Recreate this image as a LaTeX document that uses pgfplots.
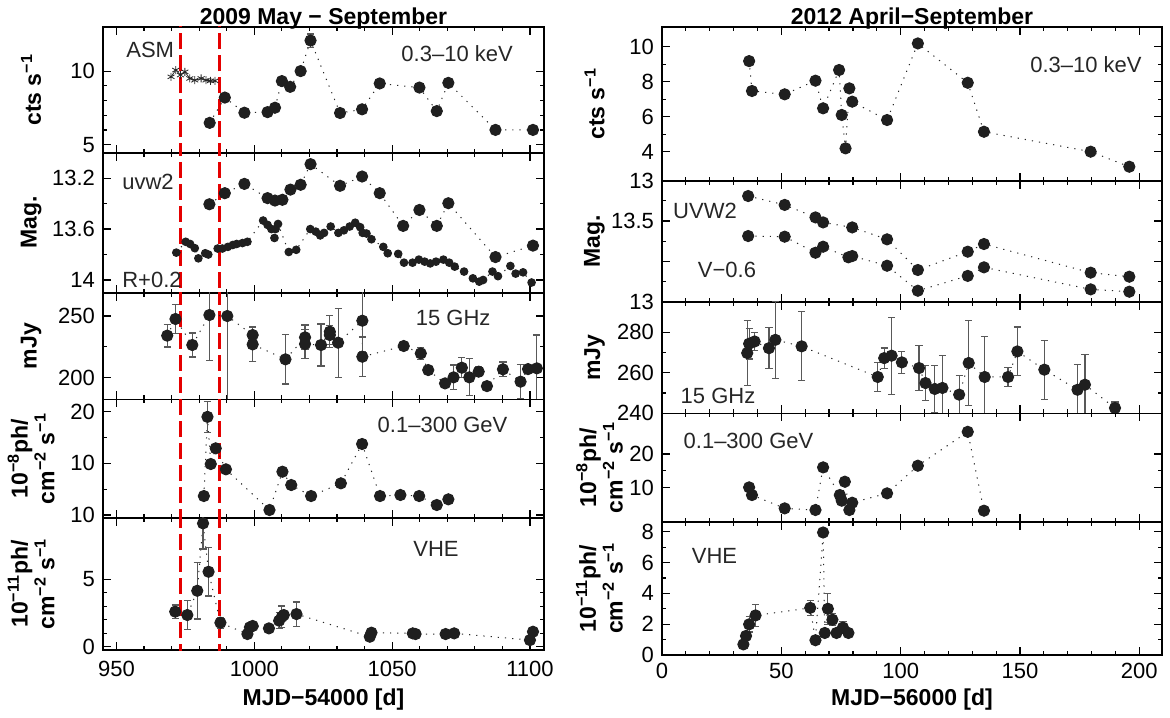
\documentclass[border=0pt]{standalone}
\usepackage{fontspec}
\setmainfont{Liberation Sans}
\usepackage{pgfplots}
\pgfplotsset{compat=1.18}

\pgfplotsset{
  panel/.style={scale only axis, clip=true,
    axis line style={line width=0.8pt},
    tick style={black, line width=0.6pt},
    major tick length=4pt, minor tick length=2pt, tick align=inside,
    tick label style={font=\fontsize{11}{12}\selectfont},
    yticklabel style={xshift=-0.5pt},
    label style={font=\bfseries\fontsize{11.5}{11}\selectfont},
    title style={font=\bfseries\fontsize{11.5}{12}\selectfont, anchor=base, yshift=-5pt},
    /pgf/number format/1000 sep={},
    /pgf/number format/assume math mode=true},
  leftx/.style={xmin=945.1, xmax=1105.1, xtick={950,1000,1050,1100}, minor x tick num=4,
    width=220.5pt, ylabel style={at={(axis description cs:-0.163,0.5)}, anchor=center, align=center}},
  rightx/.style={xmin=0, xmax=209.5, xtick={0,50,100,150,200}, minor x tick num=4,
    width=250pt, ylabel style={at={(axis description cs:-0.135,0.5)}, anchor=center, align=center}},
  pts/.style={black!85, line width=0.5pt, dash pattern=on 0.6pt off 3pt,
    mark=*, mark size=2.8pt, mark options={solid, fill=black!88, draw=black!88}},
  errs/.style={error bars/y dir=both, error bars/y explicit,
    error bars/error bar style={solid, line width=0.6pt, black!65},
    error bars/error mark options={rotate=90, mark size=1.8pt, line width=0.6pt, black!65}},
  flag/.style={red!90!black, line width=1.5pt, dash pattern=on 8pt off 3pt},
}
\tikzset{anno/.style={font=\fontsize{11}{12}\selectfont, text=black!85}}

\begin{document}
\begin{tikzpicture}
\useasboundingbox (0,0) rectangle (585pt,-358.5pt);

% ---------------- left column: 2009 ----------------
\begin{axis}[panel, leftx, at={(51.5pt,-13.5pt)}, anchor=north west, height=62.85pt,
  ymin=4.45, ymax=13, ytick={5,10}, minor y tick num=4, xticklabels={},
  ylabel={cts s\textsuperscript{−1}},
  title={2009 May − September}]
\addplot[flag] coordinates {(973.1,4) (973.1,14)};
\addplot[flag] coordinates {(987.4,4) (987.4,14)};
\addplot[black!85, line width=0.4pt, mark=asterisk, mark size=2pt] coordinates {
(969.8,9.61) (971.5,10.07) (973.2,9.73) (974.8,9.95) (976.6,9.50) (978.4,9.38)
(980.7,9.50) (982.5,9.38) (984.1,9.34) (985.7,9.34)};
\addplot[pts, errs] coordinates {
(983.8,6.48) +- (0,0.15) (989.3,8.2) +- (0,0.15) (996.4,7.17) +- (0,0.15)
(1004.8,7.21) +- (0,0.15) (1007.5,7.51) +- (0,0.15) (1010.0,9.32) +- (0,0.15)
(1013.0,8.93) +- (0,0.2) (1016.8,10.0) +- (0,0.15) (1020.4,12.08) +- (0,0.45)
(1031.1,7.15) +- (0,0.15) (1039.1,7.40) +- (0,0.15) (1045.5,9.16) +- (0,0.15)
(1059.9,8.88) +- (0,0.2) (1066.2,7.28) +- (0,0.15) (1070.4,9.2) +- (0,0.15)
(1087.5,6.0) +- (0,0.15) (1101.1,6.0) +- (0,0.15)};
\node[anno] at (axis description cs:0.107,0.817) {ASM};
\node[anno] at (axis description cs:0.803,0.785) {0.3–10 keV};
\end{axis}

\begin{axis}[panel, leftx, at={(51.5pt,-76.35pt)}, anchor=north west, height=70pt,
  ymin=13.0, ymax=14.1, y dir=reverse, ytick={13.2,13.6,14}, minor y tick num=1, xticklabels={},
  ylabel={Mag.}]
\addplot[flag] coordinates {(973.1,12.9) (973.1,14.2)};
\addplot[flag] coordinates {(987.4,12.9) (987.4,14.2)};
\addplot[pts] coordinates {
(983.7,13.405) (989.3,13.318) (996.4,13.245) (1004.8,13.357) (1007.5,13.376) (1010.2,13.37)
(1013.1,13.29) (1016.8,13.252) (1020.4,13.09) (1031.1,13.26) (1039.1,13.187) (1045.5,13.318)
(1054.0,13.575) (1059.9,13.45) (1066.2,13.575) (1070.4,13.397) (1087.5,13.82) (1101.1,13.73)};
\addplot[pts, mark size=1.9pt] coordinates {
(971.7,13.785) (975.1,13.70) (976.7,13.717) (978.4,13.75) (979.7,13.83) (982.2,13.79)
(983.3,13.80) (986.7,13.753) (988.4,13.753) (990.4,13.74) (992.2,13.725) (993.6,13.717)
(995.7,13.71) (997.5,13.70) (1003.2,13.533) (1004.8,13.567) (1006.2,13.60) (1007.3,13.67)
(1007.7,13.60) (1008.6,13.56) (1012.5,13.78) (1015.2,13.763) (1020.3,13.60) (1022.3,13.62)
(1023.9,13.65) (1025.3,13.63) (1027.7,13.58) (1030.5,13.63) (1032.5,13.61) (1034.6,13.58)
(1036.6,13.55) (1038.4,13.585) (1039.3,13.63) (1040.7,13.635) (1042.5,13.68) (1046.8,13.74)
(1048.4,13.79) (1052.2,13.795) (1054.3,13.864) (1057.4,13.864) (1059.7,13.84) (1061.8,13.856)
(1063.8,13.87) (1065.9,13.856) (1068.6,13.84) (1070.7,13.864) (1072.7,13.895) (1076.1,13.934)
(1079.3,13.987) (1081.6,14.013) (1083.0,14.0) (1086.4,13.934) (1088.4,13.97) (1092.9,13.89)
(1094.8,13.95) (1097.5,13.94) (1100.6,14.02)};
\node[anno] at (axis description cs:0.102,0.79) {uvw2};
\node[anno] at (axis description cs:0.111,0.09) {R+0.2};
\end{axis}

\begin{axis}[panel, leftx, at={(51.5pt,-146.35pt)}, anchor=north west, height=53.3pt,
  ymin=182.5, ymax=268.9, ytick={200,250}, minor y tick num=1, xticklabels={},
  ylabel={mJy}]
\addplot[flag] coordinates {(973.1,170) (973.1,280)};
\addplot[flag] coordinates {(987.4,170) (987.4,280)};
\addplot[pts, errs] coordinates {
(968.4,234.1) +- (0,9.2) (971.4,247.6) +- (0,12) (977.5,226.5) +- (0,9.7)
(983.7,250.8) +- (0,37) (990.2,250) +- (0,80) (999.4,234.6) +- (0,7)
(999.4,227.0) +- (0,14) (1011.3,214.9) +- (0,20) (1018.4,232.7) +- (0,10)
(1018.4,227.3) +- (0,12) (1024.2,226.5) +- (0,17) (1027.4,237.3) +- (0,13)
(1027.4,234.6) +- (0,8) (1030.4,228.4) +- (0,28) (1039.2,246.2) +- (0,25)
(1039.2,217.0) +- (0,16) (1054.2,225.7) +- (0,3.5) (1060.4,219.7) +- (0,5)
(1063.1,206.2) +- (0,2) (1069.2,195.4) +- (0,2) (1072.3,200.3) +- (0,10)
(1075.3,208.1) +- (0,8) (1078.0,200.3) +- (0,15) (1081.4,204.9) +- (0,4)
(1084.4,193.2) +- (0,2) (1090.2,206.8) +- (0,6) (1096.6,196.8) +- (0,14)
(1099.3,207.0) +- (0,2) (1102.5,207.6) +- (0,27)};
\node[anno] at (axis description cs:0.794,0.763) {15 GHz};
\end{axis}

\begin{axis}[panel, leftx, at={(51.5pt,-199.65pt)}, anchor=north west, height=59.2pt,
  ymin=-0.54, ymax=22.4, ytick={0,10,20}, yticklabels={10,10,20}, minor y tick num=1, xticklabels={},
  ylabel={10\textsuperscript{−8}ph/\\cm\textsuperscript{−2} s\textsuperscript{−1}}]
\addplot[flag] coordinates {(973.1,-2) (973.1,25)};
\addplot[flag] coordinates {(987.4,-2) (987.4,25)};
\addplot[pts, errs] coordinates {
(981.7,3.66) +- (0,0.3) (983.0,19.0) +- (0,3) (984.2,9.86) +- (0,0.5) (986.0,12.9) +- (0,0.5)
(989.7,8.83) +- (0,0.5) (1005.5,0.95) +- (0,0.3) (1010.2,8.37) +- (0,0.4) (1013.4,5.79) +- (0,0.4)
(1020.6,3.66) +- (0,0.3) (1031.4,6.12) +- (0,0.4) (1039.1,13.74) +- (0,0.9) (1045.6,3.66) +- (0,0.3)
(1053.0,3.86) +- (0,0.3) (1059.8,3.66) +- (0,0.3) (1066.2,1.92) +- (0,0.3) (1070.4,3.02) +- (0,0.3)};
\node[anno] at (axis description cs:0.77,0.783) {0.1–300 GeV};
\end{axis}

\begin{axis}[panel, leftx, at={(51.5pt,-258.85pt)}, anchor=north west, height=66.15pt,
  ymin=-0.245, ymax=9.57, ytick={0,5}, minor y tick num=4,
  xticklabel style={yshift=-2pt},
  ylabel={10\textsuperscript{−11}ph/\\cm\textsuperscript{−2} s\textsuperscript{−1}},
  xlabel={MJD−54000 [d]},
  xlabel style={at={(axis description cs:0.5,0)}, anchor=base, yshift=-27.5pt}]
\addplot[flag] coordinates {(973.1,-1) (973.1,11)};
\addplot[flag] coordinates {(987.4,-1) (987.4,11)};
\addplot[pts, errs] coordinates {
(971.3,2.6) +- (0,0.5) (975.7,2.35) +- (0,1.1) (979.3,4.15) +- (0,2.1) (981.4,9.15) +- (0,1.9)
(983.4,5.56) +- (0,1.8) (987.7,1.78) +- (0,0.4) (997.5,0.94) +- (0,0.2) (998.4,1.44) +- (0,0.2)
(999.4,1.54) +- (0,0.2) (1005.3,1.36) +- (0,0.2) (1009.0,1.93) +- (0,0.6) (1010.0,2.22) +- (0,0.8)
(1010.7,2.35) +- (0,0.3) (1015.3,2.42) +- (0,0.9) (1041.9,0.74) +- (0,0.15) (1042.5,1.04) +- (0,0.15)
(1057.5,0.99) +- (0,0.1) (1058.5,0.94) +- (0,0.1) (1069.4,0.94) +- (0,0.1) (1072.5,0.99) +- (0,0.1)
(1100.0,0.49) +- (0,0.2) (1101.1,1.11) +- (0,0.2)};
\node[anno] at (axis description cs:0.755,0.763) {VHE};
\end{axis}

% ---------------- right column: 2012 ----------------
\begin{axis}[panel, rightx, at={(331pt,-13.5pt)}, anchor=north west, height=76.85pt,
  ymin=2.34, ymax=11.13, ytick={4,6,8,10}, minor y tick num=1, xticklabels={},
  ylabel={cts s\textsuperscript{−1}},
  title={2012 April−September}]
\addplot[pts] coordinates {
(36.5,9.18) (37.7,7.47) (51.4,7.28) (64.3,8.06) (67.5,6.48) (74.2,8.67) (75.3,6.10) (76.9,4.19)
(78.5,7.62) (79.7,6.86) (94.3,5.81) (107.2,10.19) (128.1,7.94) (134.9,5.14) (179.6,4.0) (195.8,3.14)};
\node[anno] at (axis description cs:0.848,0.753) {0.3–10 keV};
\end{axis}

\begin{axis}[panel, rightx, at={(331pt,-90.35pt)}, anchor=north west, height=60.5pt,
  ymin=13, ymax=14.5, y dir=reverse, ytick={13,13.5,14,14.5}, yticklabels={13,13.5,,13},
  minor y tick num=1, xticklabels={},
  ylabel={Mag.}]
\addplot[pts] coordinates {
(36.1,13.19) (51.4,13.30) (64.3,13.455) (67.5,13.517) (79.7,13.579) (94.3,13.727)
(107.2,14.107) (128.1,13.88) (134.9,13.785) (179.6,14.14) (195.8,14.19)};
\addplot[pts] coordinates {
(36.1,13.686) (51.4,13.694) (64.3,13.893) (67.5,13.818) (78.1,13.95) (79.7,13.934)
(94.3,14.054) (107.2,14.364) (128.1,14.18) (134.9,14.074) (179.6,14.347) (195.8,14.376)};
\node[anno] at (axis description cs:0.086,0.75) {UVW2};
\node[anno] at (axis description cs:0.13,0.266) {V−0.6};
\end{axis}

\begin{axis}[panel, rightx, at={(331pt,-150.85pt)}, anchor=north west, height=55.8pt,
  ymin=240, ymax=295, ytick={240,260,280}, minor y tick num=1, xticklabels={},
  ylabel={mJy}]
\addplot[pts, errs] coordinates {
(35.7,269.7) +- (0,16) (36.5,274.3) +- (0,7.5) (38.8,275.4) +- (0,4.5) (44.8,272.1) +- (0,10)
(47.5,276.2) +- (0,19) (58.5,273.0) +- (0,17) (90.4,257.9) +- (0,7) (93.1,267.2) +- (0,5)
(96.2,268.4) +- (0,19) (100.5,265.1) +- (0,5.5) (107.7,262.3) +- (0,11) (110.4,254.9) +- (0,8.5)
(114.3,252.0) +- (0,11.5) (117.5,252.5) +- (0,16) (124.5,249.2) +- (0,9.5) (128.5,264.8) +- (0,21)
(135.2,257.9) +- (0,20) (145.0,257.9) +- (0,4.5) (148.9,270.5) +- (0,12) (160.2,261.5) +- (0,14.5)
(174.1,251.6) +- (0,12.5) (177.2,254.1) +- (0,15) (189.8,242.6) +- (0,3)};
\node[anno] at (axis description cs:0.112,0.16) {15 GHz};
\end{axis}

\begin{axis}[panel, rightx, at={(331pt,-206.65pt)}, anchor=north west, height=54.2pt,
  ymin=-0.1, ymax=32.1, ytick={10,20}, minor y tick num=1, xticklabels={},
  ylabel={10\textsuperscript{−8}ph/\\cm\textsuperscript{−2} s\textsuperscript{−1}},
  ylabel style={at={(axis description cs:-0.125,0.5)}}]
\addplot[pts] coordinates {
(36.5,10.1) (37.7,7.82) (51.4,3.86) (64.3,3.37) (67.5,16.04) (74.5,7.82) (75.3,6.14)
(76.6,11.78) (78.5,3.37) (79.7,5.54) (94.3,8.32) (107.2,16.53) (128.1,26.6) (134.9,3.17)};
\node[anno] at (axis description cs:0.173,0.747) {0.1–300 GeV};
\end{axis}

\begin{axis}[panel, rightx, at={(331pt,-260.85pt)}, anchor=north west, height=66.65pt,
  ymin=0, ymax=8.65, ytick={0,2,4,6,8}, minor y tick num=1,
  xticklabel style={yshift=-0.5pt},
  ylabel={10\textsuperscript{−11}ph/\\cm\textsuperscript{−2} s\textsuperscript{−1}},
  ylabel style={at={(axis description cs:-0.125,0.5)}},
  xlabel={MJD−56000 [d]},
  xlabel style={at={(axis description cs:0.5,0)}, anchor=base, yshift=-25pt}]
\addplot[pts, errs] coordinates {
(34.1,0.69) +- (0,0.15) (35.2,1.24) +- (0,0.2) (36.5,1.99) +- (0,0.5) (39.2,2.57) +- (0,0.7)
(62.1,3.06) +- (0,0.5) (64.3,0.96) +- (0,0.2) (67.5,7.95) +- (0,0.2) (68.2,1.43) +- (0,0.2)
(69.5,3.0) +- (0,1.0) (71.4,2.29) +- (0,0.4) (73.1,1.43) +- (0,0.3) (75.8,1.78) +- (0,0.4)
(78.1,1.43) +- (0,0.2)};
\node[anno] at (axis description cs:0.105,0.743) {VHE};
\end{axis}
\end{tikzpicture}
\end{document}
